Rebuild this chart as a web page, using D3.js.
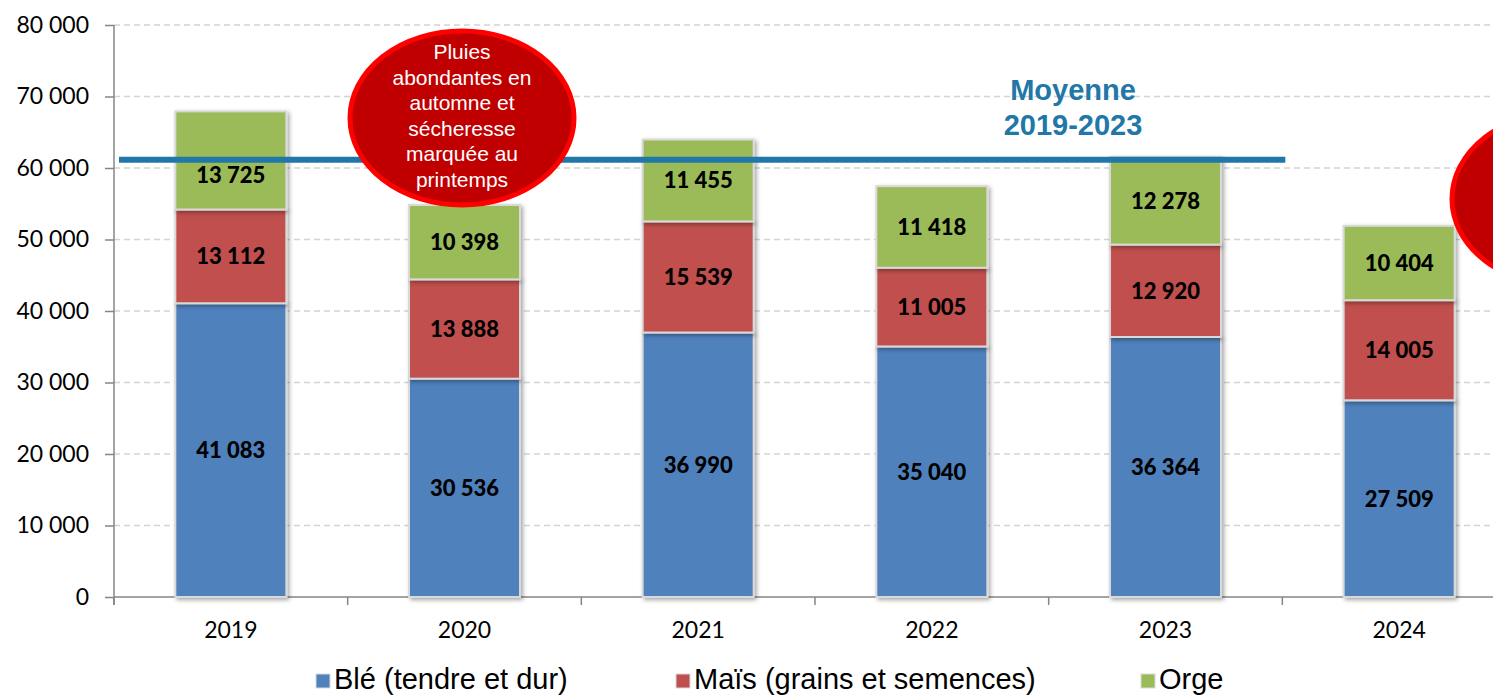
<!DOCTYPE html>
<html>
<head>
<meta charset="utf-8">
<script src="https://cdn.jsdelivr.net/npm/d3@7"></script>
<style>
    body { margin: 0; background: #fff; overflow: hidden; }
    svg { display: block; }
</style>
</head>
<body>
<svg id="chart" width="1493" height="696"></svg>
<script>
// values in tonnes (milliers)
var years = ['2019', '2020', '2021', '2022', '2023', '2024'];
var ble = [41083, 30536, 36990, 35040, 36364, 27509];
var mais = [13112, 13888, 15539, 11005, 12920, 14005];
var orge = [13725, 10398, 11455, 11418, 12278, 10404];
var seriesNames = ['Blé (tendre et dur)', 'Maïs (grains et semences)', 'Orge'];
var seriesColors = ['#4F81BD', '#C0504D', '#9BBB59'];
var yTicks = [0, 10000, 20000, 30000, 40000, 50000, 60000, 70000, 80000];
var avgYears = ['2019', '2020', '2021', '2022', '2023'];
var note2020 = ['Pluies', 'abondantes en', 'automne et', 'sécheresse', 'marquée au', 'printemps'];
var note2024 = ['', '', '', '', 'conditions très', ''];

var svg = d3.select('#chart');

var margin = { left: 114, top: 25, bottom: 99 };
var height = 696;

var x = d3.scaleBand()
    .domain(years)
    .range([margin.left, 1516])
    .paddingInner(0.525)
    .paddingOuter(0.2625);

var y = d3.scaleLinear()
    .domain([0, 80000])
    .range([height - margin.bottom, margin.top]);

var fmt = function (v) {
    return d3.format(',')(v).replace(/,/g, ' ');
};

var defs = svg.append('defs');
var shadow = defs.append('filter').attr('id', 'shadow')
    .attr('x', '-20%').attr('y', '-20%').attr('width', '140%').attr('height', '140%');
shadow.append('feDropShadow')
    .attr('dx', 2).attr('dy', 2).attr('stdDeviation', 2)
    .attr('flood-color', '#000').attr('flood-opacity', 0.35);

// grid
svg.append('g')
    .selectAll('line')
    .data(yTicks.filter(function (d) { return d > 0; }))
    .enter().append('line')
    .attr('x1', margin.left).attr('x2', 1493)
    .attr('y1', function (d) { return y(d); })
    .attr('y2', function (d) { return y(d); })
    .style('stroke', '#d4d4d4')
    .style('stroke-width', 1.5)
    .style('stroke-dasharray', '6,4');

// y axis
var yAxis = svg.append('g')
    .attr('transform', 'translate(' + margin.left + ',0)')
    .call(d3.axisLeft(y).tickValues(yTicks).tickSize(9).tickPadding(16).tickFormat(fmt));
yAxis.select('.domain').remove();
yAxis.append('line')
    .attr('x1', 0).attr('x2', 0)
    .attr('y1', y(80000)).attr('y2', y(0) + 8)
    .style('stroke', '#868686').style('stroke-width', 1.5);
yAxis.selectAll('.tick line').style('stroke', '#868686').style('stroke-width', 1.5);
yAxis.selectAll('.tick text')
    .style('font-family', 'Lato, sans-serif')
    .style('font-size', '23px')
    .style('fill', '#000');

// x axis
var xAxis = svg.append('g')
    .attr('transform', 'translate(0,' + y(0) + ')');
xAxis.append('line')
    .attr('x1', margin.left).attr('x2', 1493)
    .style('stroke', '#868686').style('stroke-width', 1.5);
var step = x.step();
xAxis.selectAll('.xtick')
    .data(d3.range(years.length + 1))
    .enter().append('line')
    .attr('x1', function (i) { return margin.left + i * step; })
    .attr('x2', function (i) { return margin.left + i * step; })
    .attr('y1', 0).attr('y2', 8)
    .style('stroke', '#868686').style('stroke-width', 1.5);
xAxis.selectAll('.xlabel')
    .data(years)
    .enter().append('text')
    .attr('x', function (d) { return x(d) + x.bandwidth() / 2; })
    .attr('y', 41)
    .attr('text-anchor', 'middle')
    .style('font-family', 'Lato, sans-serif')
    .style('font-size', '23px')
    .text(function (d) { return d; });

// stacked bars
var rows = years.map(function (yr, i) {
    return { year: yr, ble: ble[i], mais: mais[i], orge: orge[i] };
});
var stack = d3.stack().keys(['ble', 'mais', 'orge'])(rows);

var layers = svg.append('g').selectAll('g')
    .data(stack)
    .enter().append('g')
    .style('fill', function (d, i) { return seriesColors[i]; });

layers.selectAll('rect')
    .data(function (d) { return d; })
    .enter().append('rect')
    .attr('x', function (d) { return x(d.data.year); })
    .attr('y', function (d) { return y(d[1]); })
    .attr('width', x.bandwidth())
    .attr('height', function (d) { return y(d[0]) - y(d[1]); })
    .attr('filter', 'url(#shadow)')
    .style('stroke', '#d9d9d9')
    .style('stroke-width', 2);

// average line 2019-2023
var avg = d3.mean(avgYears, function (yr) {
    var i = years.indexOf(yr);
    return ble[i] + mais[i] + orge[i];
});
svg.append('line')
    .attr('x1', margin.left + 5)
    .attr('x2', margin.left + avgYears.length * step + 3)
    .attr('y1', y(avg)).attr('y2', y(avg))
    .style('stroke', '#2177A8')
    .style('stroke-width', 6);

// segment labels, pushed below the average line when they would overlap it
var labels = svg.append('g');
stack.forEach(function (layer) {
    labels.selectAll(null)
        .data(layer)
        .enter().append('text')
        .attr('x', function (d) { return x(d.data.year) + x.bandwidth() / 2; })
        .attr('y', function (d) {
            var mid = (y(d[0]) + y(d[1])) / 2;
            var inAvg = avgYears.indexOf(d.data.year) !== -1;
            if (inAvg && Math.abs(mid - y(avg)) < 14) {
                mid = y(avg) + 15;
            }
            return mid + 8;
        })
        .attr('text-anchor', 'middle')
        .style('fill', '#000')
        .style('font-family', 'Lato, sans-serif')
        .style('font-weight', '900')
        .style('font-size', '22px')
        .text(function (d) { return fmt(d[1] - d[0]); });
});

var avgLabel = svg.append('text')
    .attr('text-anchor', 'middle')
    .style('font-family', '"Liberation Sans", Arial, sans-serif')
    .style('font-weight', 'bold')
    .style('font-size', '29px')
    .style('fill', '#2177A8');
avgLabel.append('tspan').attr('x', 1073).attr('y', 100).text('Moyenne');
avgLabel.append('tspan').attr('x', 1073).attr('y', 135).text('2019-2023');

// callouts
function callout(cx, cy, lines) {
    var g = svg.append('g');
    g.append('ellipse')
        .attr('cx', cx).attr('cy', cy)
        .attr('rx', 112).attr('ry', 87)
        .style('fill', '#C00000')
        .style('stroke', '#FF0000')
        .style('stroke-width', 5);
    g.selectAll('text')
        .data(lines)
        .enter().append('text')
        .attr('x', cx)
        .attr('y', function (d, i) { return cy - 59 + i * 25.6; })
        .attr('text-anchor', 'middle')
        .style('font-family', '"Liberation Sans", Arial, sans-serif')
        .style('font-size', '21px')
        .style('fill', '#fff')
        .text(function (d) { return d; });
}
callout(462, 118, note2020);
callout(1564, 199, note2024);

// legend
var legendX = [316, 676, 1141];
var legend = svg.append('g').selectAll('g')
    .data(seriesNames)
    .enter().append('g')
    .attr('transform', function (d, i) { return 'translate(' + legendX[i] + ',674)'; });
legend.append('rect')
    .attr('width', 14).attr('height', 14)
    .style('fill', function (d, i) { return seriesColors[i]; })
    .style('stroke', '#d9d9d9')
    .style('stroke-width', 1);
legend.append('text')
    .attr('x', 18).attr('y', 15)
    .style('font-family', '"Liberation Sans", Arial, sans-serif')
    .style('font-size', '29px')
    .text(function (d) { return d; });
</script>
</body>
</html>
